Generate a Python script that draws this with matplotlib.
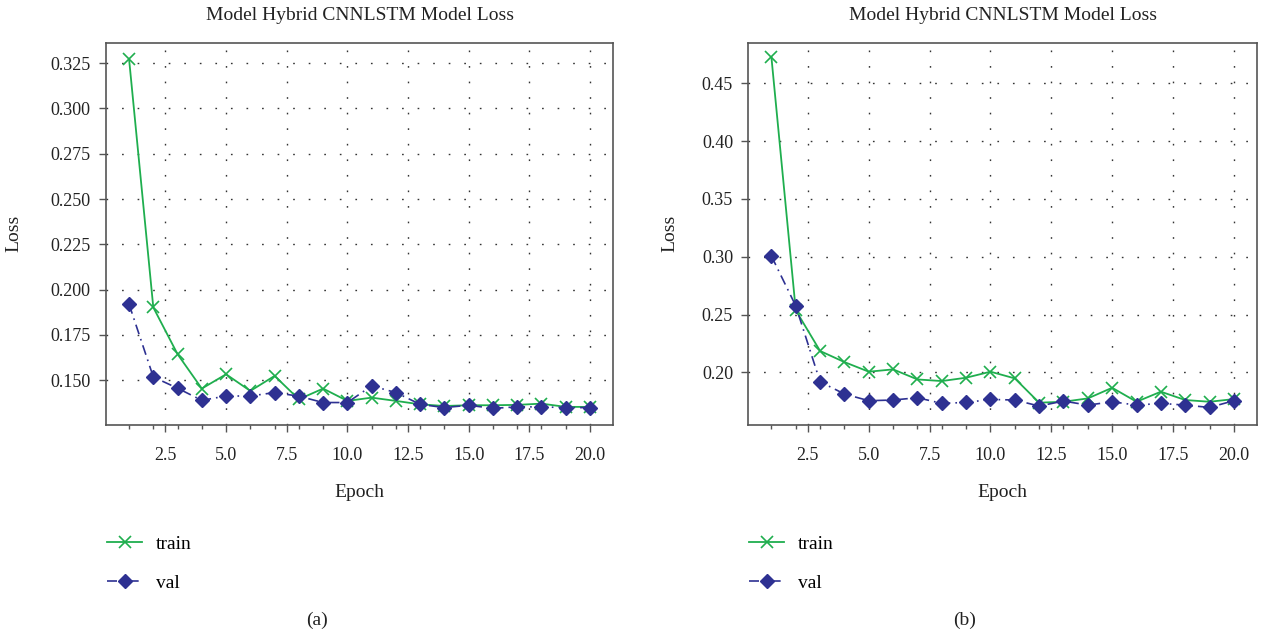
import matplotlib
matplotlib.use("Agg")
import matplotlib.pyplot as plt
from matplotlib.ticker import MultipleLocator, FormatStrFormatter

epochs = list(range(1, 21))

train_a = [0.3274, 0.1902, 0.1644, 0.1454, 0.1533, 0.1441, 0.1524, 0.1395, 0.1454, 0.1386,
           0.1404, 0.1386, 0.1367, 0.1358, 0.1362, 0.1362, 0.1364, 0.1371, 0.1353, 0.1353]
val_a = [0.1920, 0.1518, 0.1456, 0.1389, 0.1413, 0.1413, 0.1432, 0.1412, 0.1377, 0.1377,
         0.1469, 0.1432, 0.1367, 0.1349, 0.1362, 0.1345, 0.1353, 0.1353, 0.1349, 0.1349]

train_b = [0.4725, 0.2537, 0.2185, 0.2089, 0.2006, 0.2026, 0.1939, 0.1925, 0.1954, 0.2006,
           0.1948, 0.1738, 0.1746, 0.1775, 0.1867, 0.1746, 0.1833, 0.1761, 0.1746, 0.1769]
val_b = [0.3006, 0.2575, 0.1919, 0.1813, 0.1755, 0.1761, 0.1781, 0.1732, 0.1740, 0.1766,
         0.1761, 0.1709, 0.1752, 0.1717, 0.1746, 0.1717, 0.1732, 0.1717, 0.1697, 0.1755]

title_text = "Model Hybrid CNNLSTM Model Loss"
panel_labels = ["(a)", "(b)"]

plt.rcParams['font.family'] = ['Liberation Serif', 'DejaVu Serif']

GREEN = "#1fae4e"
NAVY = "#2e3192"
SPINE = "#555555"
TXT = "#222222"

fig = plt.figure(figsize=(12.78, 6.39), dpi=100)
W, H = 1278, 639

def make_axes(x0, x1, y_top, y_bot):
    return fig.add_axes([x0 / W, (H - y_bot) / H, (x1 - x0) / W, (y_bot - y_top) / H])

ax_a = make_axes(106, 613, 42.7, 425)
ax_b = make_axes(748.3, 1257, 42.7, 425)

panels = [
    (ax_a, train_a, val_a, 0.025, "%.3f", (0.1253, 0.3363), 107, 317, panel_labels[0], 20),
    (ax_b, train_b, val_b, 0.05, "%.2f", (0.1545, 0.4851), 749, 965, panel_labels[1], 17),
]

for ax, tr, va, ystep, yfmt, ylim, xleft, labx, plab, ylpad in panels:
    ax.plot(epochs, tr, color=GREEN, lw=1.3, marker='x', ms=8, mew=1.2, label='train', zorder=3)
    ax.plot(epochs, va, color=NAVY, lw=1.2, ls=(0, (6, 3, 1, 3)), marker='D', ms=7.5,
            mec=NAVY, mfc=NAVY, label='val', zorder=4)
    ax.set_xlim(0.05, 20.95)
    ax.set_ylim(*ylim)
    ax.set_title(title_text, fontsize=14, pad=16, color=TXT)
    ax.set_xlabel("Epoch", fontsize=14, labelpad=14, color=TXT)
    ax.set_ylabel("Loss", fontsize=14, labelpad=ylpad, color=TXT)
    ax.xaxis.set_major_locator(MultipleLocator(2.5))
    ax.xaxis.set_minor_locator(MultipleLocator(1))
    ax.xaxis.set_major_formatter(FormatStrFormatter("%.1f"))
    ax.yaxis.set_major_locator(MultipleLocator(ystep))
    ax.yaxis.set_major_formatter(FormatStrFormatter(yfmt))
    ax.tick_params(axis='both', which='major', direction='out', length=5, width=1,
                   color=SPINE, labelsize=13, labelcolor=TXT, pad=4)
    ax.tick_params(axis='x', which='minor', direction='out', length=3, width=1, color=SPINE)
    ax.tick_params(axis='x', which='major', pad=11)
    ax.tick_params(axis='y', which='major', pad=6)
    for sp in ax.spines.values():
        sp.set_color(SPINE)
        sp.set_linewidth(1.2)
    ax.grid(True, which='major', color="#333333", lw=1.0, ls=(0, (1.2, 10)))
    ax.set_axisbelow(True)
    ax.legend(loc='center left', bbox_to_anchor=(xleft / W, (H - 563.5) / H),
              bbox_transform=fig.transFigure, frameon=False, fontsize=14,
              handlelength=1.8, labelspacing=1.07, handletextpad=0.7,
              borderaxespad=0, borderpad=0)
    fig.text(labx / W, (H - 620) / H, plab,
             ha='center', va='center', fontsize=14, color=TXT)

fig.savefig("out.png", dpi=100, facecolor="white")
